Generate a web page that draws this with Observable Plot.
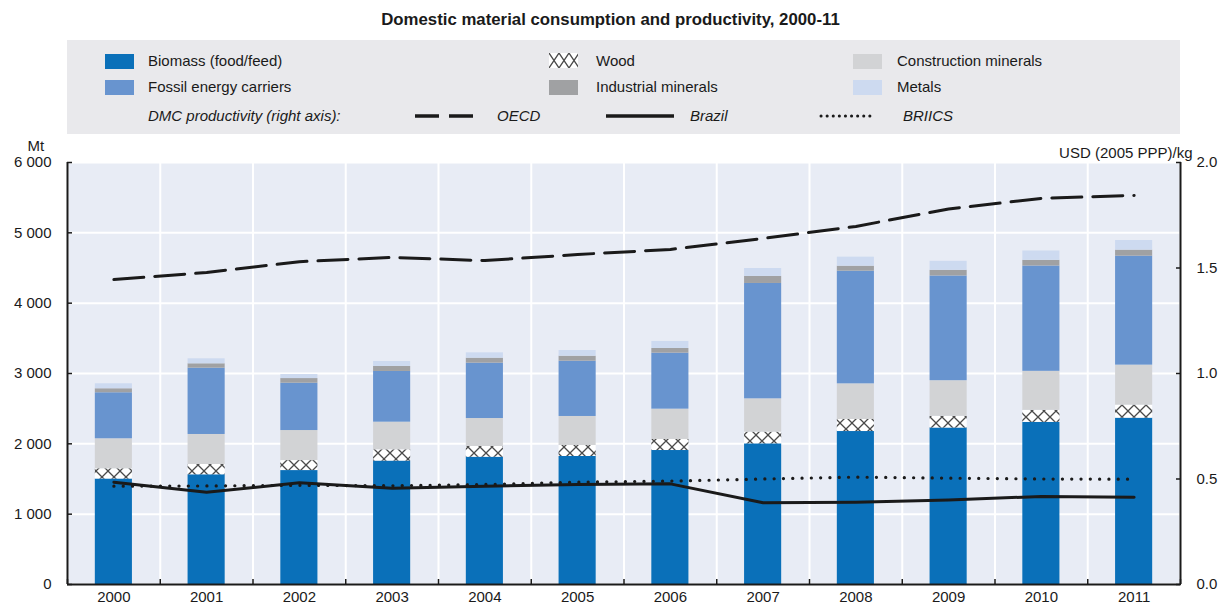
<!DOCTYPE html>
<html><head><meta charset="utf-8">
<script src="https://cdn.jsdelivr.net/npm/d3@7"></script>
<script src="https://cdn.jsdelivr.net/npm/@observablehq/plot@0.6"></script>
<style>
body{margin:0;background:#fff;}
#wrap{position:relative;width:1221px;height:607px;font-family:"Liberation Sans",Arial,sans-serif;color:#1a1a1a;}
#title{position:absolute;left:0;top:10px;width:1221px;text-align:center;font-weight:bold;font-size:16.8px;}
#legend{position:absolute;left:67px;top:40px;width:1113px;height:94px;background:#e9e9ec;}
.it{position:absolute;font-size:15px;line-height:20px;white-space:nowrap;}
.sw{position:absolute;width:29px;height:15px;}
#chart{position:absolute;left:0;top:135px;}
#chart svg{overflow:visible;}
</style></head><body>
<div id="wrap">
  <div id="title">Domestic material consumption and productivity, 2000-11</div>
  <div id="legend"></div>
  <div id="chart"></div>
</div>
<script>
// ---- data ----
const years = [2000,2001,2002,2003,2004,2005,2006,2007,2008,2009,2010,2011];
const biomass      = [1500,1560,1620,1755,1810,1820,1905,2000,2175,2225,2305,2365];
const wood         = [145,146,142,160,152,156,157,166,171,166,171,185];
const construction = [427,427,427,393,398,413,431,474,507,507,555,569];
const fossil       = [654,943,673,721,787,786,796,1640,1602,1488,1497,1549];
const industrial   = [57,62,66,71,71,71,67,100,71,81,81,86];
const metals       = [71,71,57,71,76,81,100,113,128,128,133,137];
const oecd   = [1.445,1.479,1.53,1.55,1.535,1.564,1.588,1.64,1.697,1.78,1.83,1.844];
const brazil = [0.485,0.437,0.482,0.456,0.466,0.474,0.477,0.387,0.39,0.401,0.417,0.414];
const briics = [0.466,0.467,0.47,0.468,0.474,0.485,0.49,0.50,0.509,0.504,0.50,0.499];
const leftTicks = [0,1000,2000,3000,4000,5000,6000];
const rightTicks = [0,0.5,1.0,1.5,2.0];

// ---- styles ----
const series = [
  {key:"Biomass (food/feed)", values:biomass, fill:"#0a70b9"},
  {key:"Wood", values:wood, fill:"url(#woodpat)"},
  {key:"Construction minerals", values:construction, fill:"#d2d3d5"},
  {key:"Fossil energy carriers", values:fossil, fill:"#6894cf"},
  {key:"Industrial minerals", values:industrial, fill:"#a0a1a3"},
  {key:"Metals", values:metals, fill:"#cddaf0"}
];
const RATIO = 3000; // 2.0 on right axis == 6000 on left axis

const rows = [];
years.forEach((yr,i)=>{
  let acc = 0;
  series.forEach(s=>{ rows.push({year:yr, cat:s.key, y1:acc, y2:acc+s.values[i]}); acc += s.values[i]; });
});
const lineRows = arr => years.map((yr,i)=>({year:yr, v:arr[i]}));
const bounds = years.map(y=>y-0.5).concat([years[years.length-1]+0.5]);
const fmt = d => d3.format(",")(d).replace(/,/g," ");
const font = '"Liberation Sans",Arial,sans-serif';

const marks = [
  Plot.frame({fill:"#e8ecf5", stroke:null}),
  Plot.gridY({ticks:leftTicks, stroke:"#fff", strokeOpacity:1, strokeWidth:2}),
  Plot.gridX({ticks:bounds, stroke:"#fff", strokeOpacity:1, strokeWidth:2}),
];
series.forEach(s=>{
  marks.push(Plot.rect(rows.filter(r=>r.cat===s.key), {x1:d=>d.year-0.2, x2:d=>d.year+0.2, y1:"y1", y2:"y2", fill:s.fill}));
});
marks.push(
  Plot.line(lineRows(oecd), {x:"year", y:d=>d.v*RATIO, stroke:"#1a1a1a", strokeWidth:3, strokeDasharray:"30,11"}),
  Plot.line(lineRows(brazil), {x:"year", y:d=>d.v*RATIO, stroke:"#1a1a1a", strokeWidth:3}),
  Plot.line(lineRows(briics), {x:"year", y:d=>d.v*RATIO, stroke:"#1a1a1a", strokeWidth:3.2, strokeDasharray:"0.1,9.2", strokeLinecap:"round"}),
  Plot.axisY({anchor:"left", ticks:leftTicks, tickFormat:fmt, tickSize:0, tickPadding:16, fontSize:15, fill:"#1a1a1a", label:null}),
  Plot.axisY({anchor:"left", ticks:leftTicks, tickFormat:()=>"", tickSize:-5, stroke:"#1a1a1a", strokeWidth:1.5, label:null}),
  Plot.axisY({anchor:"right", ticks:rightTicks.map(v=>v*RATIO), tickFormat:d=>(d/RATIO).toFixed(1), tickSize:0, tickPadding:16, fontSize:15, fill:"#1a1a1a", label:null}),
  Plot.axisY({anchor:"right", ticks:rightTicks.map(v=>v*RATIO), tickFormat:()=>"", tickSize:-5, stroke:"#1a1a1a", strokeWidth:1.5, label:null}),
  Plot.axisX({ticks:years, tickFormat:d=>String(d), tickSize:0, tickPadding:7, fontSize:15, fill:"#1a1a1a", label:null}),
  Plot.axisX({ticks:bounds, tickFormat:()=>"", tickSize:-5, stroke:"#1a1a1a", strokeWidth:1.5, label:null}),
  Plot.ruleX([bounds[0]], {stroke:"#1a1a1a", strokeWidth:2}),
  Plot.ruleX([bounds[bounds.length-1]], {stroke:"#1a1a1a", strokeWidth:2}),
  Plot.ruleY([0], {stroke:"#1a1a1a", strokeWidth:2}),
  Plot.text(["Mt"], {frameAnchor:"top-left", dx:-40, dy:-22, fontSize:15, fill:"#1a1a1a"}),
  Plot.text(["USD (2005 PPP)/kg"], {frameAnchor:"top-right", dx:12, dy:-15, textAnchor:"end", fontSize:15, fill:"#1a1a1a"})
);

const chart = Plot.plot({
  width:1221, height:472,
  marginLeft:67, marginRight:41, marginTop:27, marginBottom:23,
  style:{fontFamily:font, fontSize:"15px", background:"transparent", color:"#1a1a1a"},
  x:{type:"linear", domain:[bounds[0], bounds[bounds.length-1]], axis:null, label:null},
  y:{domain:[0,6000], axis:null, label:null},
  marks
});
const defs = '<pattern id="woodpat" patternUnits="userSpaceOnUse" width="12" height="12">' +
  '<rect width="12" height="12" fill="#fff"/>' +
  '<path d="M0,0L12,12M12,0L0,12" stroke="#4a4a4a" stroke-width="1.3"/></pattern>';
d3.select(chart).insert("defs", ":first-child").html(defs);
document.getElementById("chart").appendChild(chart);

// ---- legend (HTML) ----
const leg = document.getElementById("legend");
const legendItems = [
  {s:series[0], col:0, row:0}, {s:series[3], col:0, row:1},
  {s:series[1], col:1, row:0}, {s:series[4], col:1, row:1},
  {s:series[2], col:2, row:0}, {s:series[5], col:2, row:1}
];
const colSw = [38, 482, 786], colTx = [81, 529, 830], rowY = [21, 47];
legendItems.forEach(it=>{
  const y = rowY[it.row];
  if (it.s.key === "Wood") {
    const svg = `<svg class="sw" style="left:${colSw[it.col]}px;top:${y-8}px" width="29" height="15"><defs><pattern id="woodpat2" patternUnits="userSpaceOnUse" width="10" height="15"><rect width="10" height="15" fill="#fff"/><path d="M0,0L10,15M10,0L0,15" stroke="#4a4a4a" stroke-width="1.3"/></pattern></defs><rect width="29" height="15" fill="url(#woodpat2)"/></svg>`;
    leg.insertAdjacentHTML("beforeend", svg);
  } else {
    leg.insertAdjacentHTML("beforeend", `<div class="sw" style="left:${colSw[it.col]}px;top:${y-7}px;background:${it.s.fill}"></div>`);
  }
  leg.insertAdjacentHTML("beforeend", `<div class="it" style="left:${colTx[it.col]}px;top:${y-10}px">${it.s.key}</div>`);
});
const r3 = 76;
leg.insertAdjacentHTML("beforeend", `<div class="it" style="left:81px;top:${r3-10}px;font-style:italic">DMC productivity (right axis):</div>`);
const lineLeg = [
  {name:"OECD", x:348, w:70, tx:430, dash:"24,10", cap:"butt", sw:3.5},
  {name:"Brazil", x:539, w:70, tx:623, dash:"none", cap:"butt", sw:3.5},
  {name:"BRIICS", x:752, w:56, tx:836, dash:"0.1,6", cap:"round", sw:3}
];
lineLeg.forEach(l=>{
  leg.insertAdjacentHTML("beforeend", `<svg style="position:absolute;left:${l.x}px;top:${r3-5}px" width="${l.w}" height="10"><line x1="${l.cap==='round'?2:0}" y1="5" x2="${l.w-2}" y2="5" stroke="#1a1a1a" stroke-width="${l.sw}" stroke-dasharray="${l.dash}" stroke-linecap="${l.cap}"/></svg>`);
  leg.insertAdjacentHTML("beforeend", `<div class="it" style="left:${l.tx}px;top:${r3-10}px;font-style:italic">${l.name}</div>`);
});
</script>
</body></html>
